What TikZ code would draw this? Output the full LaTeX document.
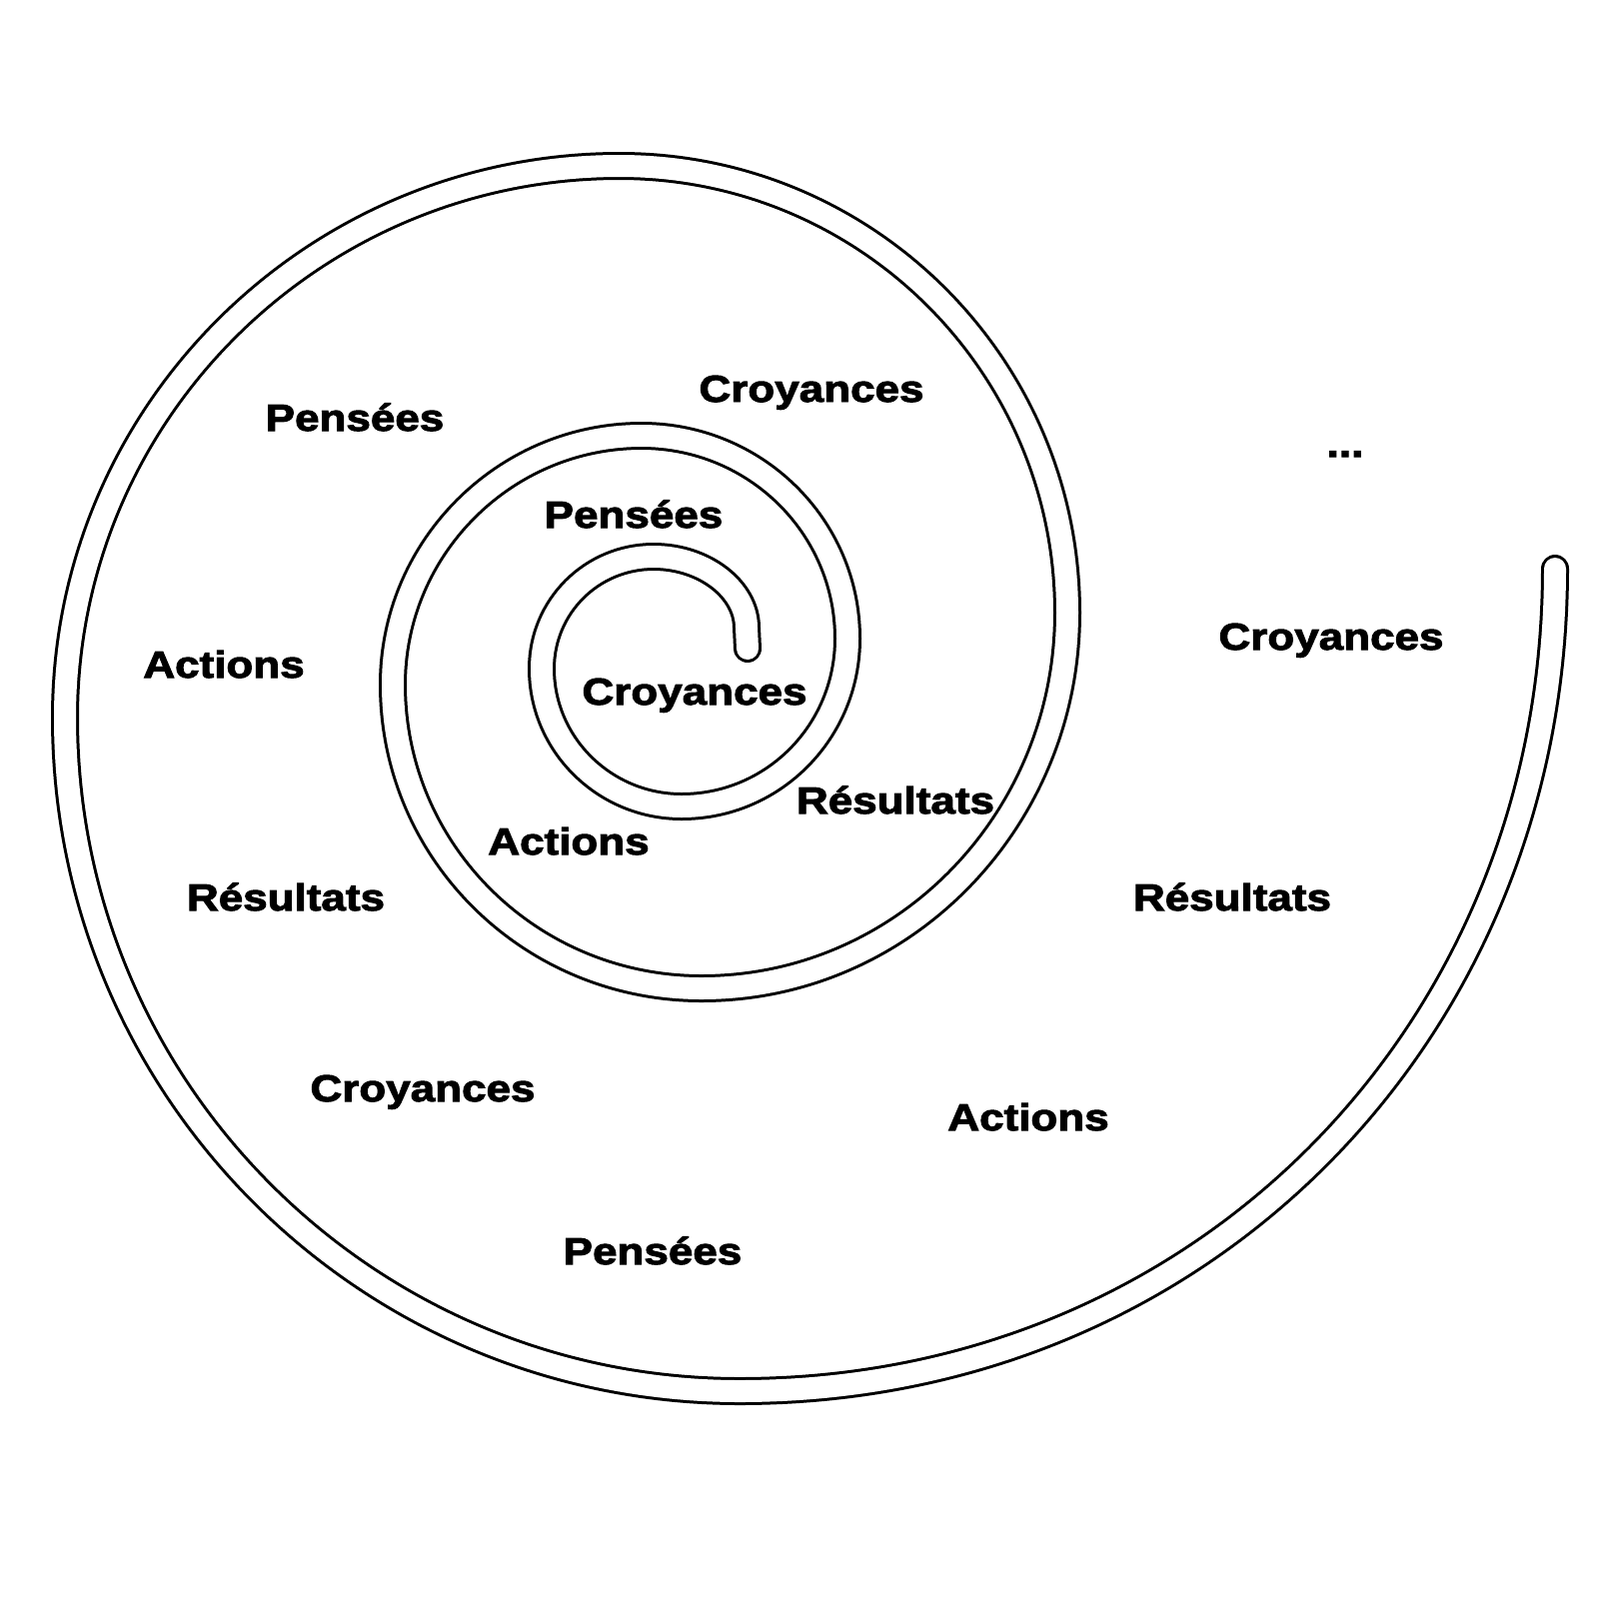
\documentclass[tikz,border=0pt]{standalone}
\usepackage{fontspec}
\newfontfamily\lblfont{Liberation Sans}[FakeStretch=1.17, BoldFeatures={FakeBold=2.6}]
\begin{document}
\begin{tikzpicture}[x=0.1mm,y=-0.1mm,
  lbl/.style={anchor=base,inner sep=0pt,font=\lblfont\bfseries\fontsize{10.7}{12}\selectfont},
  tubeout/.style={line width=2.8mm,black,line cap=round,line join=round},
  tubein/.style={line width=2.2mm,white,line cap=round,line join=round}]
\fill[white] (0,0) rectangle (1600,1600);
\useasboundingbox (0,0) rectangle (1600,1600);
\def\spiral{(748,649) -- (747,628)
  .. controls (747,590) and (705,557) .. (654,557)
  .. controls (592,557) and (542,607) .. (542,669)
  .. controls (542,745) and (605,807) .. (682,807)
  .. controls (774,807) and (848,732) .. (848,639)
  .. controls (848,527) and (756,436) .. (642,436)
  .. controls (505,436) and (393,548) .. (393,685)
  .. controls (393,853) and (531,989) .. (702,989)
  .. controls (904,989) and (1068,821) .. (1068,613)
  .. controls (1068,366) and (867,166) .. (620,166)
  .. controls (314,166) and (65,413) .. (65,718)
  .. controls (65,1090) and (367,1392) .. (740,1392)
  .. controls (1205,1392) and (1556,1030) .. (1556,569)}
\draw[tubeout] \spiral;
\draw[tubein] \spiral;
\node[lbl] (p1) at (355,431) {Pensées};
\node[lbl] (c1) at (812,402) {Croyances};
\node[lbl] (dots) at (1346,457) {...};
\node[lbl] (p2) at (634,528) {Pensées};
\node[lbl] (a1) at (224,678) {Actions};
\node[lbl] (c2) at (695,705) {Croyances};
\node[lbl] (c3) at (1332,650) {Croyances};
\node[lbl] (r1) at (896,814) {Résultats};
\node[lbl] (a2) at (569,855) {Actions};
\node[lbl] (r2) at (286,911) {Résultats};
\node[lbl] (r3) at (1233,911) {Résultats};
\node[lbl] (c4) at (423,1102) {Croyances};
\node[lbl] (a3) at (1029,1131) {Actions};
\node[lbl] (p3) at (653,1265) {Pensées};
\end{tikzpicture}
\end{document}
